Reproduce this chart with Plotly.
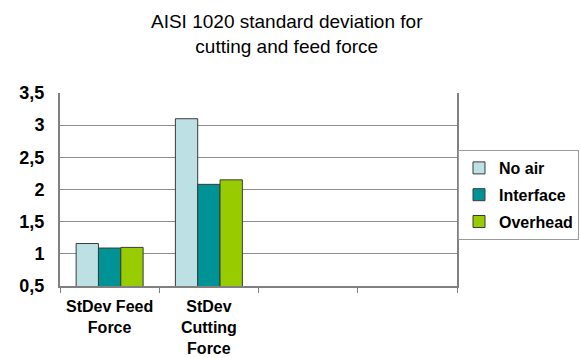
import plotly.graph_objects as go

# Categories on the x axis (the last two slots are left empty)
categories = ["StDev Feed<br>Force", "StDev<br>Cutting<br>Force", " ", "  "]
shown = categories[:2]

# Standard deviation values per air condition
no_air = [1.16, 3.10]
interface = [1.09, 2.08]
overhead = [1.10, 2.15]

series_names = ["No air", "Interface", "Overhead"]
colors = ["#BCE0E4", "#009395", "#99CC00"]

y_ticks = [0.5, 1, 1.5, 2, 2.5, 3, 3.5]

FONT = "Liberation Sans, Arial, sans-serif"

fig = go.Figure()
for name, vals, col in zip(series_names, [no_air, interface, overhead], colors):
    fig.add_trace(go.Bar(
        x=shown, y=vals, name=name, legendgroup=name,
        marker=dict(color=col, line=dict(color="#3a3a3a", width=1)),
    ))

fig.update_layout(
    width=580, height=358,
    margin=dict(l=60, r=123, t=93, b=72, autoexpand=False),
    paper_bgcolor="white", plot_bgcolor="white",
    separators=",.",
    barmode="group", bargap=0.325, bargroupgap=0,
    font=dict(family=FONT, color="#000000"),
    legend=dict(
        xref="container", yref="container",
        x=458 / 580, xanchor="left", y=1 - 150 / 358, yanchor="top",
        bgcolor="white", bordercolor="#9a9a9a", borderwidth=1,
        font=dict(family=FONT, size=16, weight="bold", color="#000000"),
        itemwidth=30, tracegroupgap=3,
    ),
    showlegend=True,
    annotations=[dict(
        text="AISI 1020 standard deviation for<br>cutting and feed force",
        xref="paper", yref="paper", x=0.572, y=1.308,
        xanchor="center", yanchor="middle", showarrow=False,
        font=dict(family=FONT, size=19, color="#000000"),
    )],
)

fig.update_xaxes(
    type="category", categoryorder="array", categoryarray=categories,
    range=[-0.5, 3.5], tickangle=0, automargin=False,
    tickson="boundaries", ticks="outside", ticklen=5, tickcolor="#808080", tickwidth=1,
    ticklabelstandoff=5,
    showline=True, linecolor="#808080", linewidth=2, mirror=False,
    showgrid=False,
    tickfont=dict(family=FONT, size=16, weight="bold", color="#000000"),
)

fig.update_yaxes(
    range=[0.5, 3.5], tickvals=y_ticks, automargin=False,
    showline=True, linecolor="#808080", linewidth=2, mirror=True,
    showgrid=True, gridcolor="#8c8c8c", gridwidth=1,
    ticks="", ticklabelstandoff=10,
    zeroline=False,
    tickfont=dict(family=FONT, size=18, weight="bold", color="#000000"),
)

fig.write_html("out.html")
